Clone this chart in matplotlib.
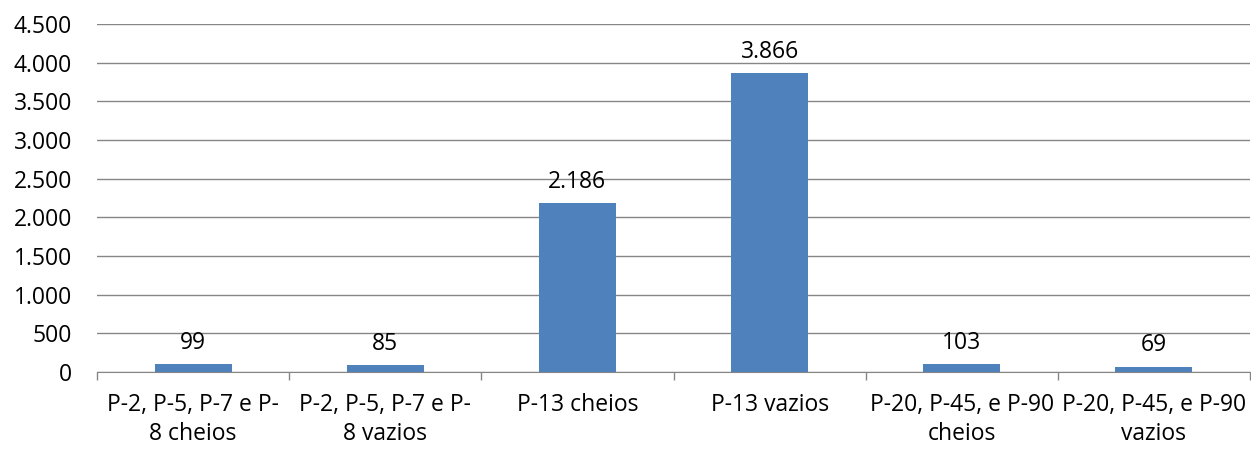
import matplotlib
matplotlib.use("Agg")
import matplotlib.pyplot as plt
from matplotlib.ticker import FuncFormatter, MultipleLocator

categories = [
    "P-2, P-5, P-7 e P-\n8 cheios",
    "P-2, P-5, P-7 e P-\n8 vazios",
    "P-13 cheios",
    "P-13 vazios",
    "P-20, P-45, e P-90\ncheios",
    "P-20, P-45, e P-90\nvazios",
]
values = [99, 85, 2186, 3866, 103, 69]

plt.rcParams["font.family"] = ["Open Sans", "DejaVu Sans"]
FS = 16.5

fig = plt.figure(figsize=(12.51, 4.5), dpi=100)
ax = fig.add_axes([97 / 1251, 1 - 372 / 450, (1250 - 97) / 1251, (372 - 24) / 450])

x = list(range(len(categories)))
ax.bar(x, values, width=0.4, color="#4F81BD", zorder=3)

def fmt(v):
    return f"{int(v):,}".replace(",", ".")

for xi, v in zip(x, values):
    ax.annotate(fmt(v), (xi, v), xytext=(0, 11), textcoords="offset points",
                ha="center", va="baseline", fontsize=FS, color="#000000")

ax.set_xlim(-0.5, len(categories) - 0.5)
ax.set_ylim(0, 4500)
ax.yaxis.set_major_locator(MultipleLocator(500))
ax.yaxis.set_major_formatter(FuncFormatter(lambda v, p: fmt(v)))
ax.grid(axis="y", color="#868686", linewidth=1, zorder=0)

# category boundaries carry the tick marks, labels sit at the bar centres
ax.set_xticks([i + 0.5 for i in range(-1, len(categories))])
ax.set_xticklabels([])
ax.tick_params(axis="x", which="major", length=6, color="#868686", width=1)
ax.set_xticks(x, minor=True)
ax.set_xticklabels(categories, minor=True, fontsize=FS, linespacing=1.3)
ax.tick_params(axis="x", which="minor", length=0, pad=15)
ax.tick_params(axis="y", length=0, labelsize=FS, pad=18)

for s in ["top", "right", "left"]:
    ax.spines[s].set_visible(False)
ax.spines["bottom"].set_color("#868686")
ax.spines["bottom"].set_zorder(4)

fig.savefig("out.png", dpi=100)
